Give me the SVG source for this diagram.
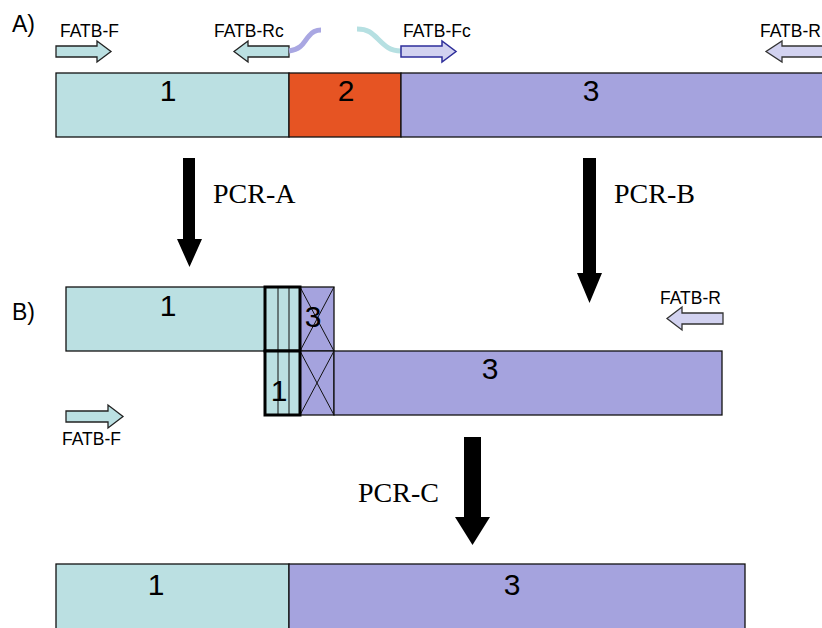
<svg xmlns="http://www.w3.org/2000/svg" width="822" height="628" viewBox="0 0 822 628">
  <style>
    .seg { stroke: #111; stroke-width: 1.3; }
    .teal { fill: #bbe0e2; }
    .purple { fill: #a5a3de; }
    .orange { fill: #e65423; }
    .num { font-family: "Liberation Sans", Arial, sans-serif; font-size: 30px; fill: #000; text-anchor: middle; }
    .sec { font-family: "Liberation Sans", Arial, sans-serif; font-size: 23px; fill: #000; }
    .primer { font-family: "Liberation Sans", Arial, sans-serif; font-size: 17.5px; fill: #000; }
    .pcr { font-family: "Liberation Serif", "Times New Roman", serif; font-size: 28px; fill: #000; }
    .parr-teal { fill: #bbe0e2; stroke: #222; stroke-width: 1.3; }
    .parr-purple { fill: #d2d2f0; stroke: #333; stroke-width: 1.3; }
    .parr-fc { fill: #d2d2f0; stroke: #2e2e9a; stroke-width: 1.5; }
    .bigarrow { fill: #000; }
    .thin { stroke: #111; stroke-width: 1; fill: none; }
  </style>

  <!-- Section A: template with regions 1, 2, 3 -->
  <text class="sec" x="12" y="32">A)</text>
  <g id="a-seg1">
    <rect class="seg teal" x="56" y="73" width="233" height="64"/>
    <text class="num" x="168" y="101">1</text>
  </g>
  <g id="a-seg2">
    <rect class="seg orange" x="289" y="73" width="112" height="64"/>
    <text class="num" x="346" y="101">2</text>
  </g>
  <g id="a-seg3">
    <rect class="seg purple" x="401" y="73" width="430" height="64"/>
    <text class="num" x="591" y="101">3</text>
  </g>

  <!-- Primers on the template -->
  <g id="a-fatb-f">
    <path class="parr-teal" d="M56,46 H97 V41 L111,51.5 L97,62 V57 H56 Z"/>
    <text class="primer" x="60" y="37">FATB-F</text>
  </g>
  <g id="a-fatb-rc">
    <path class="parr-teal" d="M289,46 H248 V41 L234,51.5 L248,62 V57 H289 Z"/>
    <path d="M289,51 C303,49 304,41 309,36 C312,32 316,30 321,30" fill="none" stroke="#a9a7e2" stroke-width="5"/>
    <text class="primer" x="214" y="37">FATB-Rc</text>
  </g>
  <g id="a-fatb-fc">
    <path d="M357,29 C368,29 372,33 378,39 C385,46 390,51 401,51" fill="none" stroke="#b6e0e2" stroke-width="5"/>
    <path class="parr-fc" d="M401,46 H442 V41 L456,51.5 L442,62 V57 H401 Z"/>
    <text class="primer" x="403" y="37">FATB-Fc</text>
  </g>
  <g id="a-fatb-r">
    <path class="parr-purple" d="M840,46 H782 V41 L766,51.5 L782,62 V57 H840 Z"/>
    <text class="primer" x="760" y="37">FATB-R</text>
  </g>

  <!-- Section B: products of PCR-A and PCR-B annealing -->
  <text class="sec" x="12" y="320">B)</text>
  <g id="b-prod1">
    <rect class="seg teal" x="66" y="287" width="199" height="64"/>
    <text class="num" x="168" y="316">1</text>
  </g>
  <g id="b-overlap-top">
    <rect class="seg teal" x="265" y="287" width="35" height="64"/>
    <line class="thin" x1="278" y1="287" x2="278" y2="351"/>
    <line class="thin" x1="289" y1="287" x2="289" y2="351"/>
    <rect class="seg purple" x="300" y="287" width="34" height="64"/>
    <line class="thin" x1="300" y1="287" x2="334" y2="351"/>
    <line class="thin" x1="334" y1="287" x2="300" y2="351"/>
    <text class="num" x="313" y="327">3</text>
    <rect x="265" y="287" width="35" height="64" fill="none" stroke="#000" stroke-width="3"/>
  </g>
  <g id="b-overlap-bottom">
    <rect class="seg teal" x="265" y="351" width="35" height="64"/>
    <line class="thin" x1="278" y1="351" x2="278" y2="415"/>
    <line class="thin" x1="289" y1="351" x2="289" y2="415"/>
    <rect class="seg purple" x="300" y="351" width="34" height="64"/>
    <line class="thin" x1="300" y1="351" x2="334" y2="415"/>
    <line class="thin" x1="334" y1="351" x2="300" y2="415"/>
    <text class="num" x="279" y="401">1</text>
    <rect x="265" y="351" width="35" height="64" fill="none" stroke="#000" stroke-width="3"/>
  </g>
  <g id="b-prod3">
    <rect class="seg purple" x="334" y="351" width="388" height="64"/>
    <text class="num" x="490" y="379">3</text>
  </g>
  <g id="b-fatb-r">
    <path class="parr-purple" d="M723,313 H682 V307 L667,318.5 L682,330 V324 H723 Z"/>
    <text class="primer" x="660" y="304">FATB-R</text>
  </g>
  <g id="b-fatb-f">
    <path class="parr-teal" d="M66,411 H108 V405 L123,416.5 L108,428 V422 H66 Z"/>
    <text class="primer" x="62" y="445">FATB-F</text>
  </g>

  <!-- Section C: fused product -->
  <g id="c-seg1">
    <rect class="seg teal" x="56" y="564" width="233" height="80"/>
    <text class="num" x="156" y="595">1</text>
  </g>
  <g id="c-seg3">
    <rect class="seg purple" x="289" y="564" width="456" height="80"/>
    <text class="num" x="512" y="595">3</text>
  </g>

  <!-- PCR steps -->
  <g id="connectors">
    <path class="bigarrow" d="M183,158 H195 V239 H202 L189.5,267 L177,239 H183 Z"/>
    <path class="bigarrow" d="M583,158 H596 V273 H602 L589.5,303 L577,273 H583 Z"/>
    <path class="bigarrow" d="M464,437 H481 V517 H490 L472.5,545 L455,517 H464 Z"/>
  </g>
  <text class="pcr" x="213" y="203">PCR-A</text>
  <text class="pcr" x="614" y="203">PCR-B</text>
  <text class="pcr" x="358" y="502">PCR-C</text>
</svg>
